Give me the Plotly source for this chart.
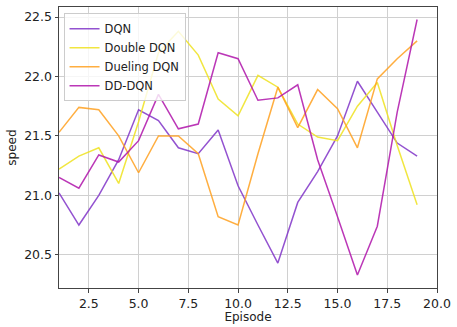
import plotly.graph_objects as go

episodes = list(range(1, 20))
dqn = [21.02, 20.75, 21.0, 21.3, 21.72, 21.63, 21.4, 21.35, 21.55, 21.08, 20.75, 20.43, 20.94, 21.2, 21.5, 21.96, 21.7, 21.44, 21.33]
double_dqn = [21.22, 21.33, 21.4, 21.1, 21.62, 22.2, 22.38, 22.18, 21.81, 21.67, 22.01, 21.91, 21.6, 21.49, 21.46, 21.75, 21.95, 21.42, 20.92]
dueling_dqn = [21.53, 21.74, 21.72, 21.5, 21.19, 21.5, 21.5, 21.35, 20.82, 20.75, 21.35, 21.91, 21.57, 21.89, 21.73, 21.4, 21.98, 22.15, 22.3]
dd_dqn = [21.15, 21.06, 21.34, 21.28, 21.46, 21.85, 21.56, 21.6, 22.2, 22.15, 21.8, 21.82, 21.93, 21.3, 20.82, 20.33, 20.74, 21.7, 22.48]

series = [("DQN", dqn, "rgba(128,52,200,0.85)"),
          ("Double DQN", double_dqn, "rgba(238,226,30,0.85)"),
          ("Dueling DQN", dueling_dqn, "rgba(255,160,30,0.85)"),
          ("DD-DQN", dd_dqn, "rgba(175,20,170,0.85)")]

fig = go.Figure()
for name, vals, col in series:
    fig.add_trace(go.Scatter(x=episodes, y=vals, mode="lines", name=name,
                             line=dict(color=col, width=1.5)))

axis_common = dict(showline=True, linecolor="#444", linewidth=1, mirror=True,
                   showgrid=True, gridcolor="#d0d0d0", gridwidth=1,
                   ticks="outside", ticklen=3.5, tickcolor="#444",
                   tickfont=dict(family="DejaVu Sans", size=12.5, color="#222"),
                   zeroline=False)
fig.update_layout(
    width=457, height=327,
    margin=dict(l=59, r=16, t=6, b=36),
    paper_bgcolor="white", plot_bgcolor="white",
    font=dict(family="DejaVu Sans", size=12, color="#222"),
    xaxis=dict(range=[1, 20], tickvals=[2.5, 5, 7.5, 10, 12.5, 15, 17.5, 20],
               ticktext=["2.5", "5.0", "7.5", "10.0", "12.5", "15.0", "17.5", "20.0"],
               title=dict(text="Episode", standoff=2, font=dict(size=12)), **axis_common),
    yaxis=dict(range=[20.22, 22.585], tickvals=[20.5, 21.0, 21.5, 22.0, 22.5],
               ticktext=["20.5", "21.0", "21.5", "22.0", "22.5"],
               title=dict(text="speed", standoff=4, font=dict(size=12)), **axis_common),
    legend=dict(x=0.012, y=0.978, xanchor="left", yanchor="top",
                bgcolor="rgba(255,255,255,0.8)", bordercolor="#ccc", borderwidth=1,
                font=dict(size=11.5), tracegroupgap=0, itemwidth=30),
    showlegend=True,
)
fig.write_html("out.html", config={"displayModeBar": False},
               post_script="document.body.style.margin='0';")
